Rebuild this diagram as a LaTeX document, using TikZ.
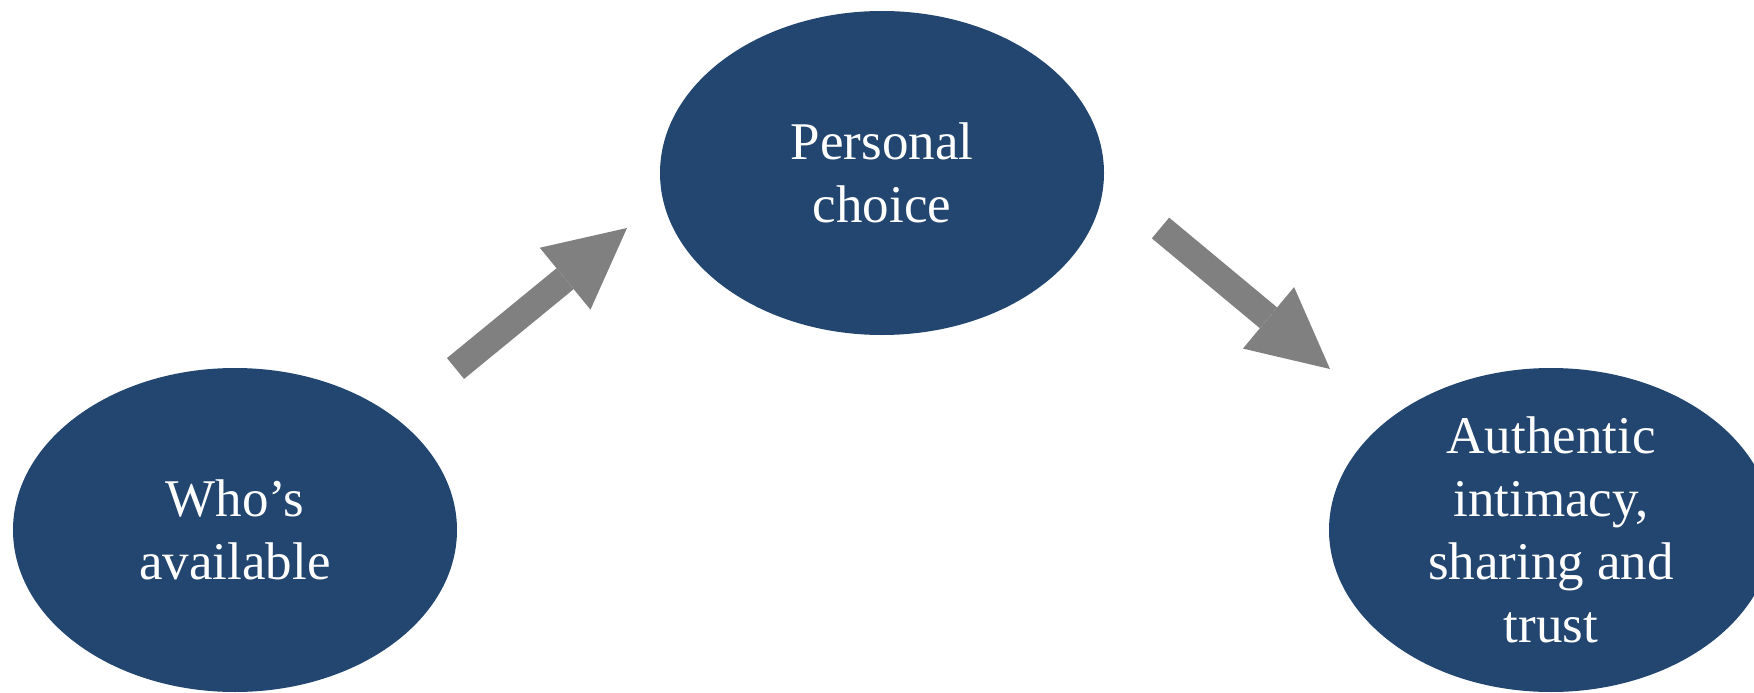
\documentclass[tikz,border=0pt]{standalone}
\usepackage{fontspec}
\setmainfont{Liberation Serif}
\usetikzlibrary{shapes.geometric,arrows.meta,calc}
\definecolor{stagefill}{RGB}{35,70,112}
\definecolor{flowgray}{RGB}{128,128,128}
\begin{document}
\begin{tikzpicture}[x=1pt,y=-1pt,
  stage/.style={ellipse, fill=stagefill, minimum width=444pt, minimum height=324pt,
    inner sep=0pt, text=white, align=center, font=\fontsize{53}{63}\selectfont},
  flow/.style={draw=flowgray, line width=27pt, shorten >=-12pt,
    -{Triangle[length=80pt, width=80pt, line width=0pt, fill=flowgray]}}]
\clip (0,0) rectangle (1754,693);
% the three stages
\node[stage] (who) at (235,530) {Who’s\\available};
\node[stage] (choice) at (882,173) {Personal\\choice};
\node[stage] (trust) at (1551,530) {Authentic\\intimacy,\\sharing and\\trust};
% block arrows between the stages (tips at up-to / down-to)
\coordinate (up-from) at (455.5,368.5);
\coordinate (up-to) at (627,228);
\coordinate (down-from) at (1160.5,228);
\coordinate (down-to) at (1330,369);
\draw[flow] (up-from) -- ($(up-to)!12pt!(up-from)$);
\draw[flow] (down-from) -- ($(down-to)!12pt!(down-from)$);
\end{tikzpicture}
\end{document}
